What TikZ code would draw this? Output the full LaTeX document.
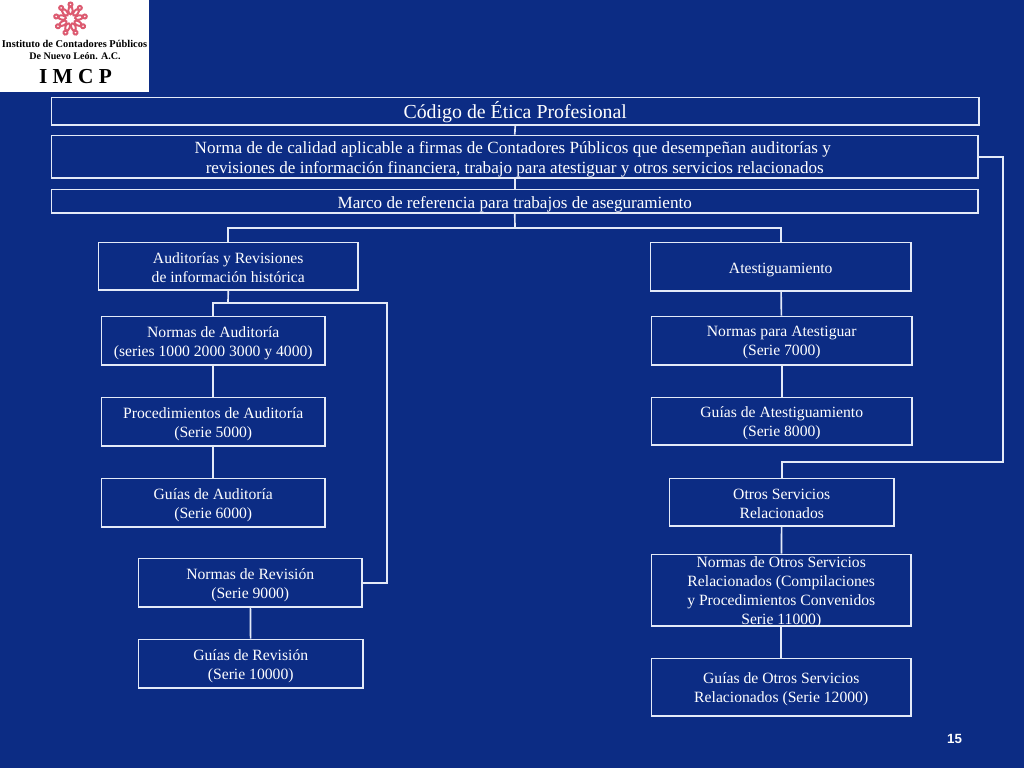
\documentclass[tikz,border=0pt]{standalone}
\usepackage{fontspec}
\setmainfont{Liberation Serif}
\newfontfamily\pagefont{Liberation Sans}
\definecolor{slidebg}{HTML}{0C2C84}
\definecolor{edgecol}{HTML}{E4EAF8}
\definecolor{flowercol}{HTML}{DC5A70}
\tikzset{
 bx/.style={draw=edgecol,line width=1.25pt,inner sep=0pt},
 bxt/.style={text=white,align=center,inner sep=0pt,font=\fontsize{11.75}{14.25}\selectfont},
 bigt/.style={bxt,font=\fontsize{12.83}{15}\selectfont},
 link/.style={draw=edgecol,line width=1.25pt},
 logotxt/.style={text=black,inner sep=0pt},
}
% name, x1, x2, y1, y2, text, text style, text offset downward in pt
\newcommand{\pbox}[8]{\node[bx,minimum width=#3*0.75pt-#2*0.75pt-0.4pt,minimum height=#5*0.75pt-#4*0.75pt-0.4pt,label={[#7,yshift=-#8pt]center:{#6}}] (#1) at ({(#2+#3)/2+0.25},{(#4+#5)/2+0.25}) {};}
\begin{document}
\begin{tikzpicture}[x=0.75pt,y=-0.75pt]
\useasboundingbox (0,0) rectangle (1024,768);
\fill[slidebg] (0,0) rectangle (1024,768);
% logo
\fill[white] (0,0) rectangle (149,92);
\foreach \a in {0,40,...,320}{
 \draw[flowercol,line width=1.5pt,rotate around={\a:(70.5,19)}] (70.5,10.5) ellipse (2.2 and 3.8);
 \draw[flowercol,line width=1.5pt,rotate around={\a:(70.5,19)}] (70.5,4.5) circle (2);
}
\node[logotxt,font=\fontsize{7.8}{9}\selectfont\bfseries] (logoa) at (74.5,44) {Instituto de Contadores Públicos};
\node[logotxt,font=\fontsize{7.55}{9}\selectfont\bfseries] (logob) at (75,56.5) {De Nuevo León. A.C.};
\node[logotxt,font=\fontsize{16}{18}\selectfont\bfseries] (logoc) at (75.5,76.5) {I M C P};
% boxes
\pbox{title}{51}{979}{97}{125}{Código de Ética Profesional}{bxt,font=\fontsize{14.9}{17}\selectfont}{0.8}
\pbox{norma}{51}{978}{135}{178}{Norma de de calidad aplicable a firmas de Contadores Públicos que desempeñan auditorías y\kern3pt\\ revisiones de información financiera, trabajo para atestiguar y otros servicios relacionados}{bigt}{2.2}
\pbox{marco}{51}{978}{189}{213}{Marco de referencia para trabajos de aseguramiento}{bigt}{2.2}
\pbox{aud}{98}{358}{242}{290}{Auditorías y Revisiones\\de información histórica}{bxt}{0.8}
\pbox{ates}{650}{911}{242}{291}{Atestiguamiento}{bxt}{2.2}
\pbox{na}{101}{325}{316}{365}{Normas de Auditoría\\(series 1000 2000 3000 y 4000)}{bxt}{1.5}
\pbox{pa}{101}{325}{397}{446}{Procedimientos de Auditoría\\(Serie 5000)}{bxt}{1.8}
\pbox{ga}{101}{325}{478}{527}{Guías de Auditoría\\(Serie 6000)}{bxt}{1.8}
\pbox{nr}{138}{362}{558}{607}{Normas de Revisión\\(Serie 9000)}{bxt}{1.8}
\pbox{gr}{138}{363}{639}{688}{Guías de Revisión\\(Serie 10000)}{bxt}{1.5}
\pbox{nat}{651}{912}{316}{365}{Normas para Atestiguar\\(Serie 7000)}{bxt}{1.5}
\pbox{gat}{651}{912}{397}{445}{Guías de Atestiguamiento\\(Serie 8000)}{bxt}{1.8}
\pbox{os}{669}{894}{478}{526}{Otros Servicios\\Relacionados}{bxt}{1.2}
\pbox{nos}{651}{911}{554}{626}{Normas de Otros Servicios\\Relacionados (Compilaciones\\y Procedimientos Convenidos\\Serie 11000)}{bxt}{1.8}
\pbox{gos}{651}{911}{658}{716}{Guías de Otros Servicios\\Relacionados (Serie 12000)}{bxt}{1.8}
\node[text=white,inner sep=0pt,font=\pagefont\bfseries\fontsize{10}{12}\selectfont] (pg) at (954.5,739) {15};
% junctions
\coordinate (j1) at (515,228);
\coordinate (j2) at (228,303);
\coordinate (j3) at (387,303);
\coordinate (j4) at (1003,156.75);
\coordinate (j5) at (1003,462);
% connectors
\draw[link] (title.south) -- (norma.north);
\draw[link] (norma.south) -- (marco.north);
\draw[link] (marco.south) -- (j1);
\draw[link] (aud.north) |- (j1) -| (ates.north);
\draw[link] (aud.south) -- (j2);
\draw[link] (na.north) |- (j2) -- (j3) |- (nr.east);
\draw[link] (na) -- (pa);
\draw[link] (pa) -- (ga);
\draw[link] (nr) -- (gr);
\draw[link] (ates) -- (nat);
\draw[link] (nat) -- (gat);
\draw[link] (norma.east) -- (j4) -- (j5) -| (os.north);
\draw[link] (os) -- (nos);
\draw[link] (nos) -- (gos);
\end{tikzpicture}
\end{document}
